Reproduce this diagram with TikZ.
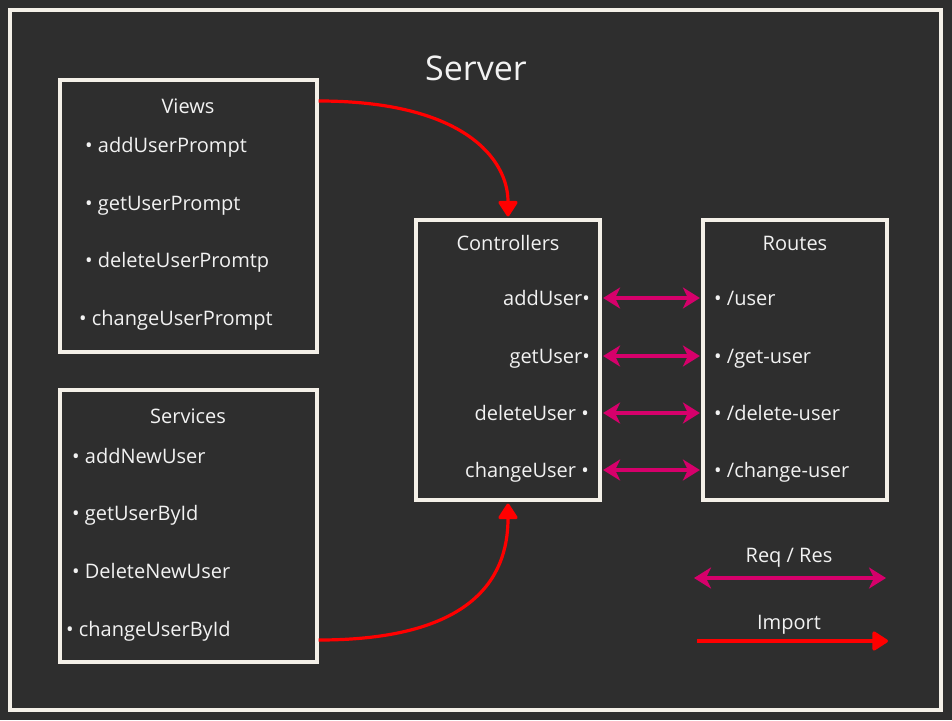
\documentclass[tikz,border=0pt]{standalone}
\usepackage{fontspec}
\setmainfont{Open Sans}
\usetikzlibrary{arrows.meta}

\definecolor{bg}{HTML}{2E2E2E}
\definecolor{frame}{HTML}{F4F0E8}
\definecolor{txt}{HTML}{F2F2F2}
\definecolor{reqres}{HTML}{D6006B}
\definecolor{imp}{HTML}{FF0000}

\begin{document}
\begin{tikzpicture}[x=1pt, y=-1pt,
    box/.style = {draw=frame, line width=3.2pt, minimum width=#1, inner sep=0pt},
    item/.style = {text=txt, font=\fontsize{20}{24}\selectfont, inner sep=0pt},
    reqarrow/.style = {reqres, line width=3.2pt, {Stealth[length=17pt,width=21pt,inset=5pt]}-{Stealth[length=17pt,width=21pt,inset=5pt]}},
    import/.style = {imp, line width=3.2pt, -{Triangle[length=17pt,width=21pt,round]}}]

    % background and frame
    \fill[bg] (0,0) rectangle (952,720);
    \node[box=931pt, minimum height=700pt] (server) at (475.5,360) {};
    \node[item, font=\fontsize{34}{40}\selectfont, anchor=base] (srvtitle) at (476,80) {Server};

    % boxes
    \node[box=257pt, minimum height=272pt] (views) at (188.5,216) {};
    \node[box=257pt, minimum height=272pt] (services) at (188.5,526) {};
    \node[box=184pt, minimum height=280pt] (ctrl) at (508,360) {};
    \node[box=184pt, minimum height=280pt] (routes) at (795,360) {};

    % titles
    \node[item, anchor=base] (vtitle) at (188,113) {Views};
    \node[item, anchor=base] (stitle) at (188,423) {Services};
    \node[item, anchor=base] (ctitle) at (508,250) {Controllers};
    \node[item, anchor=base] (rtitle) at (795,250) {Routes};

    % views
    \node[item, anchor=base west] (vadd) at (85,152) {• addUserPrompt};
    \node[item, anchor=base west] (vget) at (85,210) {• getUserPrompt};
    \node[item, anchor=base west] (vdel) at (85,267) {• deleteUserPromtp};
    \node[item, anchor=base west] (vchg) at (79,325) {• changeUserPrompt};

    % services
    \node[item, anchor=base west] (sadd) at (72,463) {• addNewUser};
    \node[item, anchor=base west] (sget) at (72,520) {• getUserById};
    \node[item, anchor=base west] (sdel) at (72,578) {• DeleteNewUser};
    \node[item, anchor=base west] (schg) at (66,636) {• changeUserById};

    % controllers
    \node[item, anchor=base east] (cadd) at (590,305) {addUser•};
    \node[item, anchor=base east] (cget) at (590,363) {getUser•};
    \node[item, anchor=base east] (cdel) at (589,420) {deleteUser •};
    \node[item, anchor=base east] (cchg) at (589,477) {changeUser •};

    % routes
    \node[item, anchor=base west] (radd) at (714,305) {• /user};
    \node[item, anchor=base west] (rget) at (714,363) {• /get-user};
    \node[item, anchor=base west] (rdel) at (714,420) {• /delete-user};
    \node[item, anchor=base west] (rchg) at (714,477) {• /change-user};

    % req / res
    \foreach \n/\y in {add/298, get/356, del/413, chg/470}
        \draw[reqarrow] ([xshift=1.5pt]ctrl.east |- 0,\y) -- ([xshift=-1.5pt]routes.west |- 0,\y);

    % imports
    \draw[import] (views.east |- 0,101) .. controls (465,101) and (508,160) .. ([yshift=2pt]ctrl.north);
    \draw[import] (services.east |- 0,640) .. controls (470,640) and (508,580) .. ([yshift=-2pt]ctrl.south);

    % legend
    \node[item, anchor=base] (lreq) at (789,562) {Req / Res};
    \node[item, anchor=base] (limp) at (789,629) {Import};
    \coordinate (lreqa) at (694,578);
    \coordinate (lreqb) at (886,578);
    \coordinate (limpa) at (697,641);
    \coordinate (limpb) at (888,641);
    \draw[reqarrow] (lreqa) -- (lreqb);
    \draw[import] (limpa) -- (limpb);

\end{tikzpicture}
\end{document}
